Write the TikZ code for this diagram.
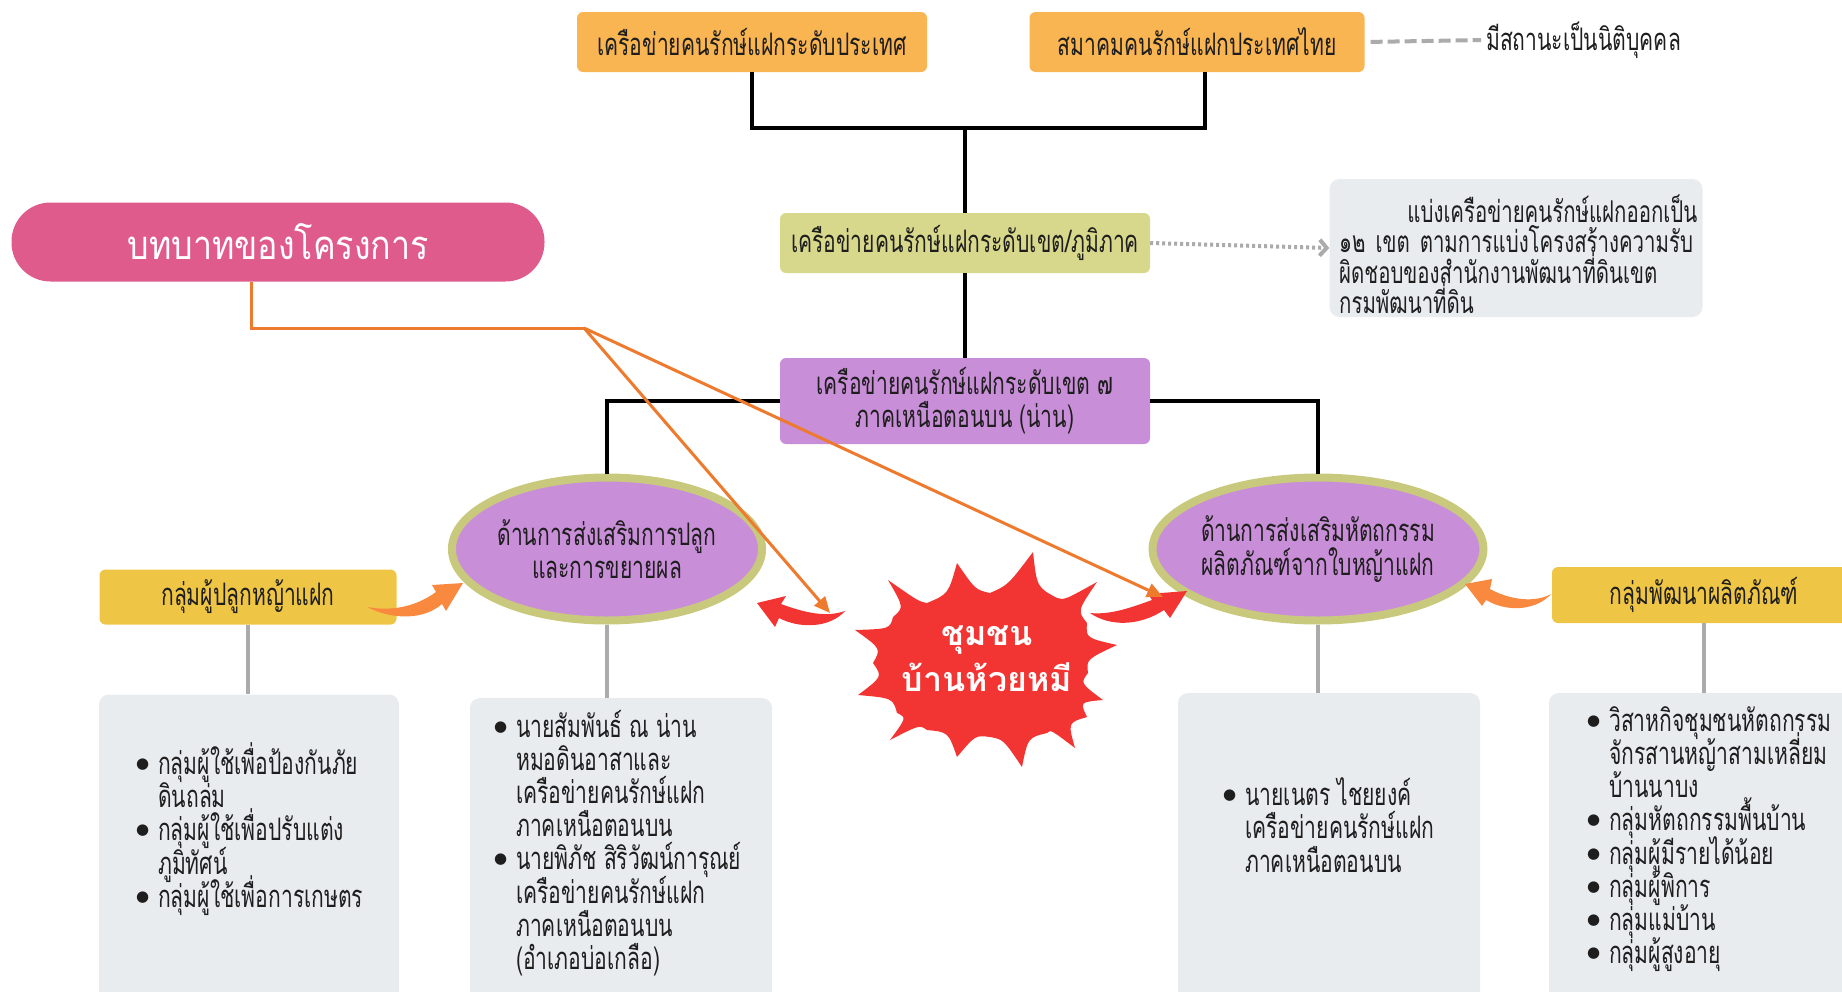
\documentclass[tikz,border=0pt]{standalone}
\usepackage{fontspec}
\usetikzlibrary{shapes.geometric,arrows.meta,calc}
\newfontfamily\thai[Script=Thai,FakeStretch=0.68]{Loma}
\newfontfamily\thaipill[Script=Thai,FakeStretch=0.85]{Loma}
\newfontfamily\thaiburst[Script=Thai]{Loma}
\newfontfamily\dejavu{DejaVu Sans}
\definecolor{cOrange}{HTML}{F9B552}
\definecolor{cKhaki}{HTML}{D8D88C}
\definecolor{cPurple}{HTML}{C98ED8}
\definecolor{cOlive}{HTML}{C9C97E}
\definecolor{cPink}{HTML}{DF5B8C}
\definecolor{cYellow}{HTML}{EFC545}
\definecolor{cGray}{HTML}{E9ECEF}
\definecolor{cLine}{HTML}{ABABAB}
\definecolor{cArrow}{HTML}{EE7A2E}
\definecolor{cRed}{HTML}{F23432}
\definecolor{cSwoosh}{HTML}{F8893F}
\definecolor{cText}{HTML}{1E1E1E}
\newcommand\bitem{\makebox[22pt][l]{\raisebox{6pt}{\dejavu\fontsize{15}{15}\selectfont●}}}
\newcommand\bcont{\hspace*{22pt}}
\begin{document}
\begin{tikzpicture}[x=1pt,y=-1pt,
  tfont/.style={font={\thai\fontsize{31}{33.2}\selectfont\lineskiplimit=-100pt}},
  box/.style={rectangle, rounded corners=6pt, inner sep=0pt, text=cText, align=center, tfont},
  graybox/.style={rectangle, rounded corners=10pt, fill=cGray, inner sep=0pt},
  listtxt/.style={align=left, inner sep=0pt, text=cText, tfont},
  oval/.style={ellipse, fill=cPurple, draw=cOlive, line width=8pt, minimum width=305pt, minimum height=143pt, inner sep=0pt, align=center, text=cText, tfont},
  blackline/.style={line width=4pt, black},
  grayline/.style={line width=4pt, cLine},
  pointer/.style={line width=3pt, cArrow},
]
\useasboundingbox (0,0) rectangle (1842,991);
\clip (0,0) rectangle (1842,991);

% top level
\node[box, fill=cOrange, minimum width=350pt, minimum height=60pt] (b1) at (752,42) {เครือข่ายคนรักษ์แฝกระดับประเทศ};
\node[box, fill=cOrange, minimum width=335pt, minimum height=60pt] (b2) at (1197,42) {สมาคมคนรักษ์แฝกประเทศไทย};
\node[anchor=west, inner sep=0pt, text=cText, tfont] (lg) at (1486,40) {มีสถานะเป็นนิติบุคคล};
\node[box, fill=cKhaki, minimum width=370pt, minimum height=60pt] (b3) at (965,243) {เครือข่ายคนรักษ์แฝกระดับเขต/ภูมิภาค};
\node[graybox, minimum width=373pt, minimum height=138pt] (note) at (1516,248) {};
\node[align=left, inner sep=0pt, text=cText, font={\thai\fontsize{30}{30.5}\selectfont\lineskiplimit=-100pt}, anchor=west, text width=358pt] (nt) at (1339,254) {\hspace*{\fill}แบ่งเครือข่ายคนรักษ์แฝกออกเป็น\\ ๑๒ เขต ตามการแบ่งโครงสร้างความรับ\\ ผิดชอบของสำนักงานพัฒนาที่ดินเขต\\ กรมพัฒนาที่ดิน};
\node[box, fill=cPurple, minimum width=370pt, minimum height=86pt] (b4) at (965,401) {เครือข่ายคนรักษ์แฝกระดับเขต ๗\\ ภาคเหนือตอนบน (น่าน)};
\node[fill=cPink, rounded corners=39pt, minimum width=533pt, minimum height=79pt, inner sep=0pt, text=white, font={\thaipill\fontsize{40}{44}\selectfont}] (pill) at (278,242) {บทบาทของโครงการ};

% second level
\node[oval] (e1) at (607,549) {ด้านการส่งเสริมการปลูก\\ และการขยายผล};
\node[oval] (e2) at (1318,549) {ด้านการส่งเสริมหัตถกรรม\\ ผลิตภัณฑ์จากใบหญ้าแฝก};
\node[box, fill=cYellow, minimum width=297pt, minimum height=55pt] (y1) at (248,597) {กลุ่มผู้ปลูกหญ้าแฝก};
\node[box, fill=cYellow, minimum width=304pt, minimum height=56pt] (y2) at (1704,595) {กลุ่มพัฒนาผลิตภัณฑ์};

% bottom boxes
\node[graybox, minimum width=300pt, minimum height=315pt] (gA) at (249,852) {};
\node[graybox, minimum width=302pt, minimum height=312pt] (gB) at (621,854) {};
\node[graybox, minimum width=302pt, minimum height=316pt] (gC) at (1329,851) {};
\node[graybox, minimum width=302pt, minimum height=316pt] (gD) at (1700,851) {};
\node[listtxt, anchor=west] (tA) at (136,829) {\bitem กลุ่มผู้ใช้เพื่อป้องกันภัย\\ \bcont ดินถล่ม\\ \bitem กลุ่มผู้ใช้เพื่อปรับแต่ง\\ \bcont ภูมิทัศน์\\ \bitem กลุ่มผู้ใช้เพื่อการเกษตร};
\node[listtxt, anchor=west] (tB) at (494,843) {\bitem นายสัมพันธ์ ณ น่าน\\ \bcont หมอดินอาสาและ\\ \bcont เครือข่ายคนรักษ์แฝก\\ \bcont ภาคเหนือตอนบน\\ \bitem นายพิภัช สิริวัฒน์การุณย์\\ \bcont เครือข่ายคนรักษ์แฝก\\ \bcont ภาคเหนือตอนบน\\ \bcont (อำเภอบ่อเกลือ)};
\node[listtxt, anchor=west] (tC) at (1223,825) {\bitem นายเนตร ไชยยงค์\\ \bcont เครือข่ายคนรักษ์แฝก\\ \bcont ภาคเหนือตอนบน};
\node[listtxt, anchor=west] (tD) at (1587,839) {\bitem วิสาหกิจชุมชนหัตถกรรม\\ \bcont จักรสานหญ้าสามเหลี่ยม\\ \bcont บ้านนาบง\\ \bitem กลุ่มหัตถกรรมพื้นบ้าน\\ \bitem กลุ่มผู้มีรายได้น้อย\\ \bitem กลุ่มผู้พิการ\\ \bitem กลุ่มแม่บ้าน\\ \bitem กลุ่มผู้สูงอายุ};

% connectors
\coordinate (j1) at (965,128);
\coordinate (j2) at (1205,128);
\draw[blackline] (b1.south) |- (j1) -- (j2) -- (j2 |- b2.south);
\draw[blackline] (j1) -- (b3.north);
\draw[blackline] (b3.south) -- (b4.north);
\draw[blackline] (b4.west) -| (e1.north);
\draw[blackline] (b4.east) -| (e2.north);
\draw[grayline] (y1.south) -- (y1.south |- gA.north);
\draw[grayline] (e1.south) -- (e1.south |- gB.north);
\draw[grayline] (e2.south) -- (e2.south |- gC.north);
\draw[grayline] (y2.south) -- (y2.south |- gD.north);
\draw[cLine, line width=4pt, dash pattern=on 12pt off 5pt, shorten <=6pt, shorten >=5pt] (b2.east) -- (lg.west);
\draw[cLine, line width=4pt, dash pattern=on 3pt off 3pt, -{Straight Barb[length=7pt,width=16pt,line width=4pt]}] (b3.east) -- (note.west);

% starburst
\coordinate (sc) at (987,662);
\fill[cRed] (1033,552) \foreach \x/\y [remember=\x as \px (initially 1033), remember=\y as \py (initially 552)] in
  {1057/598, 1097/582, 1087/623, 1117/645, 1088/673, 1103/700, 1087/717, 1075/748, 1047/733, 1022/767, 990/737, 957/757, 927/730, 890/740, 897/713, 858/695, 873/663, 855/630, 893/617, 888/580, 927/603, 957/563, 990/593, 1033/552}
  { .. controls ($($(\px,\py)!.5!(\x,\y)$)!.14!(sc)$) .. (\x,\y) } -- cycle;
\node[text=white, align=center, inner sep=0pt, font={\thaiburst\bfseries\fontsize{34}{46}\selectfont}] (burst) at (987,659) {ชุมชน\\ บ้านห้วยหมี};

% swoosh arrows
\fill[cRed] (845,611) .. controls (825,618) and (803,612) .. (781,604) -- (786,596) -- (757,603) -- (775,627) -- (779,618) .. controls (800,629) and (830,628) .. cycle;
\fill[cRed] (1090,613) .. controls (1110,615) and (1130,608) .. (1152,600) -- (1148,594) -- (1187,591) -- (1170,618) -- (1164,610) .. controls (1140,626) and (1110,627) .. cycle;
\fill[cSwoosh] (367,607) .. controls (395,612) and (418,605) .. (436,592) -- (432,585) -- (463,583) -- (446,611) -- (442,604) .. controls (425,619) and (395,621) .. cycle;
\fill[cSwoosh] (1551,594) .. controls (1535,603) and (1510,600) .. (1490,589) -- (1492,579) -- (1465,584) -- (1482,606) -- (1486,600) .. controls (1508,613) and (1537,610) .. cycle;

% pointer lines
\coordinate (o1) at (251,328);
\coordinate (hub) at (584,328);
\coordinate (t1) at (830,613);
\coordinate (t2) at (1163,597);
\draw[pointer] (pill.south -| o1) -- (o1) -- (hub);
\draw[pointer, -{Triangle[length=16pt,width=14pt]}] (hub) -- (t1);
\draw[pointer, -{Triangle[length=16pt,width=14pt]}] (hub) -- (t2);
\end{tikzpicture}
\end{document}
